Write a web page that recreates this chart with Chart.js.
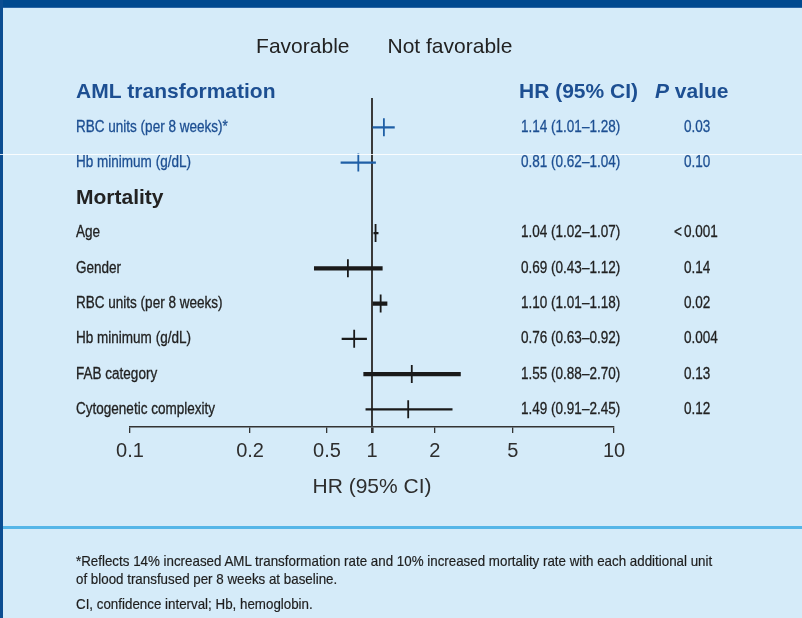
<!DOCTYPE html>
<html>
<head>
<meta charset="utf-8">
<script src="https://cdn.jsdelivr.net/npm/chart.js@4.4.1/dist/chart.umd.min.js"></script>
<style>
  html, body { margin: 0; padding: 0; }
  body {
    width: 802px; height: 618px; position: relative; overflow: hidden;
    background: #d5ebf9;
    font-family: "Liberation Sans", Arial, Helvetica, sans-serif;
  }
  .topbar { position: absolute; left: 0; top: 0; width: 802px; height: 7px; background: #00498f; border-bottom: 1px solid #2a66a6; }
  .leftbar { position: absolute; left: 0; top: 0; width: 3px; height: 618px; background: #0b4d92; }
  .rule { position: absolute; left: 3px; top: 526px; width: 799px; height: 3px; background: #56b6e8; }
  .scan { position: absolute; left: 0; top: 154px; width: 802px; height: 1px; background: rgba(255,255,255,0.85); }
  #forest { position: absolute; left: 0; top: 0; }
  .note {
    position: absolute; left: 76px; font-size: 15px; line-height: 17px; color: #1e1e1e;
    white-space: nowrap; transform-origin: 0 50%; transform: scaleX(0.89);
    -webkit-text-stroke: 0.2px #1e1e1e;
  }
</style>
</head>
<body>
<div class="topbar"></div>
<div class="leftbar"></div>
<div class="rule"></div>
<canvas id="forest" width="802" height="618"></canvas>
<div class="scan"></div>
<div class="note" style="top:552px">*Reflects 14% increased AML transformation rate and 10% increased mortality rate with each additional unit</div>
<div class="note" style="top:570px">of blood transfused per 8 weeks at baseline.</div>
<div class="note" style="top:595px">CI, confidence interval; Hb, hemoglobin.</div>

<script>
// Rows of the forest plot, top to bottom (section headers have no estimate)
const rowLabels = [
  'AML transformation',
  'RBC units (per 8 weeks)*',
  'Hb minimum (g/dL)',
  'Mortality',
  'Age',
  'Gender',
  'RBC units (per 8 weeks)',
  'Hb minimum (g/dL)',
  'FAB category',
  'Cytogenetic complexity'
];
const hazardRatio = [null, 1.14, 0.81, null, 1.04, 0.69, 1.10, 0.76, 1.55, 1.49];
const ciLower     = [null, 1.01, 0.62, null, 1.02, 0.43, 1.01, 0.63, 0.88, 0.91];
const ciUpper     = [null, 1.28, 1.04, null, 1.07, 1.12, 1.18, 0.92, 2.70, 2.45];
const pValues     = ['', '0.03', '0.10', '', '<0.001', '0.14', '0.02', '0.004', '0.13', '0.12'];
const xTicks = [0.1, 0.2, 0.5, 1, 2, 5, 10];

// Styling
const headerRows = [0, 3];
const heavyRows = [5, 6, 8];
const BLUE = '#1d4f92';
const MARK_BLUE = '#1f5fa6';
const INK = '#222222';
const FAMILY = '"Liberation Sans", Arial, Helvetica, sans-serif';
// where each axis tick sits along the axis (0 = left end, 1 = right end)
const tickStops = [0, 0.248, 0.407, 0.5, 0.63, 0.791, 1];

const inAml = i => i < 3;

// Axis that is logarithmic between consecutive ticks, with the ticks spaced as printed
const logTicks = xTicks.map(Math.log10);
function toStop(v) {
  const lv = Math.log10(v);
  let i = 0;
  while (i < logTicks.length - 2 && lv > logTicks[i + 1]) i++;
  const t = (lv - logTicks[i]) / (logTicks[i + 1] - logTicks[i]);
  return tickStops[i] + t * (tickStops[i + 1] - tickStops[i]);
}
function fromStop(d) {
  let i = 0;
  while (i < tickStops.length - 2 && d > tickStops[i + 1]) i++;
  const t = (d - tickStops[i]) / (tickStops[i + 1] - tickStops[i]);
  return Math.pow(10, logTicks[i] + t * (logTicks[i + 1] - logTicks[i]));
}
class ForestLogScale extends Chart.LogarithmicScale {
  static id = 'forestLog';
  static defaults = {};
  getPixelForValue(value) {
    if (value === undefined || value === 0) value = this.min;
    if (value === null || isNaN(value)) return NaN;
    return this.getPixelForDecimal(toStop(value));
  }
  getValueForPixel(pixel) {
    return fromStop(this.getDecimalForPixel(pixel));
  }
}
Chart.register(ForestLogScale);

const ciData = rowLabels.map((_, i) => hazardRatio[i] == null ? null : [ciLower[i], ciUpper[i]]);
const markColor = rowLabels.map((_, i) => inAml(i) ? MARK_BLUE : '#1a1a1a');
const fmt = v => v.toFixed(2);

function drawText(ctx, text, x, y, font, color, align, sx, stroke) {
  ctx.save();
  ctx.font = font;
  ctx.fillStyle = color;
  ctx.textBaseline = 'middle';
  ctx.textAlign = align || 'left';
  ctx.translate(x, y);
  ctx.scale(sx || 1, 1);
  ctx.fillText(text, 0, 0);
  if (stroke) {
    ctx.strokeStyle = color;
    ctx.lineWidth = stroke;
    ctx.strokeText(text, 0, 0);
  }
  ctx.restore();
}

const forestText = {
  id: 'forestText',
  beforeDatasetsDraw(chart) {
    const { ctx, scales: { x, y }, chartArea } = chart;
    const x1 = x.getPixelForValue(1);
    ctx.save();
    ctx.strokeStyle = '#3a3a3a';
    ctx.lineWidth = 2;
    ctx.beginPath();
    ctx.moveTo(x1, y.getPixelForValue(0) + 6);
    ctx.lineTo(x1, chartArea.bottom);
    ctx.stroke();
    ctx.restore();
  },
  afterDraw(chart) {
    const { ctx, scales: { x, y } } = chart;
    const x1 = x.getPixelForValue(1);
    const big = '21px ' + FAMILY;
    const bold = 'bold 21px ' + FAMILY;
    const small = '16px ' + FAMILY;
    const sx = 0.845;
    const st = 0.3;

    drawText(ctx, 'Favorable', x1 - 22.5, 47, big, INK, 'right');
    drawText(ctx, 'Not favorable', x1 + 15.5, 47, big, INK, 'left');

    rowLabels.forEach((label, i) => {
      const yy = y.getPixelForValue(i);
      const color = inAml(i) ? BLUE : INK;
      if (headerRows.includes(i)) {
        drawText(ctx, label, 76, yy, bold, color, 'left');
        return;
      }
      drawText(ctx, label, 76, yy, small, color, 'left', sx, st);
      const hrText = fmt(hazardRatio[i]) + ' (' + fmt(ciLower[i]) + '\u2013' + fmt(ciUpper[i]) + ')';
      drawText(ctx, hrText, 521, yy, small, color, 'left', sx, st);
      const p = pValues[i];
      if (p.startsWith('<')) {
        drawText(ctx, '<', 682, yy, small, color, 'right', sx, st);
        drawText(ctx, p.slice(1), 684, yy, small, color, 'left', sx, st);
      } else {
        drawText(ctx, p, 684, yy, small, color, 'left', sx, st);
      }
    });

    const yh = y.getPixelForValue(0);
    drawText(ctx, 'HR (95% CI)', 519, yh, bold, BLUE, 'left');
    ctx.save();
    ctx.font = 'italic bold 21px ' + FAMILY;
    const pw = ctx.measureText('P').width;
    ctx.restore();
    drawText(ctx, 'P', 655, yh, 'italic bold 21px ' + FAMILY, BLUE, 'left');
    drawText(ctx, ' value', 655 + pw, yh, bold, BLUE, 'left');
  }
};

new Chart(document.getElementById('forest'), {
  type: 'bar',
  data: {
    labels: rowLabels,
    datasets: [
      {
        type: 'bar',
        data: ciData.map((d, i) => heavyRows.includes(i) ? null : d),
        backgroundColor: markColor,
        barThickness: 1.6,
        grouped: false,
        borderWidth: 0
      },
      {
        type: 'bar',
        data: ciData.map((d, i) => heavyRows.includes(i) ? d : null),
        backgroundColor: markColor,
        barThickness: 3.6,
        grouped: false,
        borderWidth: 0
      },
      {
        type: 'line',
        data: hazardRatio,
        showLine: false,
        pointStyle: 'line',
        rotation: 90,
        pointRadius: 9,
        pointHoverRadius: 9,
        pointBorderWidth: 1.8,
        pointBorderColor: markColor,
        pointBackgroundColor: markColor
      }
    ]
  },
  options: {
    responsive: false,
    animation: false,
    events: [],
    indexAxis: 'y',
    layout: { padding: { left: 130, right: 188, top: 74.4, bottom: 107 } },
    plugins: { legend: { display: false }, tooltip: { enabled: false } },
    scales: {
      y: { type: 'category', display: false, offset: true, grid: { display: false } },
      x: {
        type: 'forestLog',
        position: 'bottom',
        min: 0.1,
        max: 10,
        afterBuildTicks: s => { s.ticks = xTicks.map(v => ({ value: v })); },
        afterFit: s => { s.height = 84; },
        ticks: {
          autoSkip: false, maxRotation: 0, padding: 6, color: '#2e2e2e',
          font: { family: FAMILY, size: 20 },
          callback: v => String(v)
        },
        grid: {
          drawOnChartArea: false, drawTicks: true, tickLength: 6, color: '#333',
          lineWidth: ctx => (ctx.tick && ctx.tick.value === 1) ? 2.6 : 1.3
        },
        border: { display: true, color: '#333', width: 1.5 },
        title: {
          display: true, text: 'HR (95% CI)', color: '#2e2e2e',
          font: { family: FAMILY, size: 21 }, padding: { top: 0, bottom: 11 }
        }
      }
    }
  },
  plugins: [forestText]
});
</script>
</body>
</html>
